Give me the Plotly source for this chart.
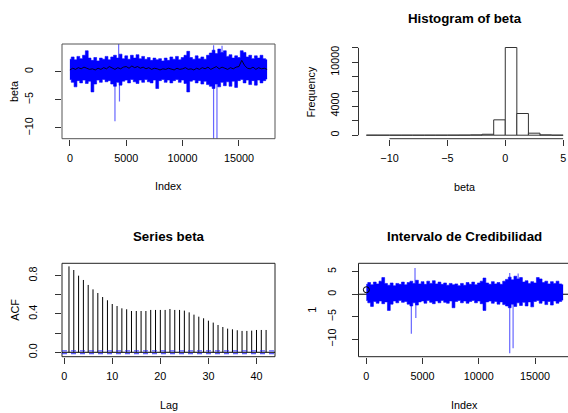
import plotly.graph_objects as go

W, H = 568, 413
FONT = "Liberation Sans, Arial, sans-serif"

# ---------------- beta: summary of the 17500 draws on a 250-step grid ----------------
idx_grid = list(range(0, 17501, 250))
upper_env = [2.2, 2.6, 2.1, 2.7, 2.3, 2.9, 3.7, 2.4, 2.0, 2.5, 1.9, 2.4, 2.2, 2.7, 2.1,
             2.6, 2.9, 2.4, 3.1, 2.3, 2.8, 2.2, 2.9, 2.4, 3.0, 2.3, 2.7, 2.2, 2.5, 2.0,
             2.4, 2.1, 2.3, 1.9, 2.4, 2.0, 2.6, 2.2, 2.7, 2.1, 2.5, 2.9, 3.6, 2.5, 2.2,
             2.8, 2.3, 2.6, 2.2, 2.9, 3.3, 3.8, 3.2, 4.0, 3.4, 3.7, 2.7, 3.0, 2.4, 2.8,
             2.5, 3.7, 3.4, 2.6, 2.9, 2.3, 2.8, 2.4, 2.9, 2.3, 2.1]
lower_env = [-1.4, -1.9, -2.7, -1.6, -2.0, -1.5, -2.1, -1.7, -3.6, -2.2, -1.5, -1.9, -1.4,
             -1.8, -1.6, -2.2, -2.6, -1.9, -2.4, -1.7, -1.5, -2.0, -1.4, -1.8, -2.1, -1.5,
             -1.9, -1.4, -1.8, -2.0, -1.5, -3.0, -1.6, -1.4, -1.9, -1.5, -2.0, -1.6, -1.4,
             -1.9, -1.5, -2.1, -3.6, -1.7, -1.5, -2.0, -1.6, -2.2, -1.7, -2.3, -2.6, -3.0,
             -2.2, -2.7, -1.9, -2.5, -1.8, -2.6, -1.7, -2.8, -1.6, -1.4, -2.0, -1.5, -2.3,
             -1.6, -2.4, -1.5, -2.0, -1.6, -1.3]
mean_line = [0.3, 0.6, 0.4, 0.7, 0.5, 0.8, 0.6, 0.4, 0.5, 0.3, 0.6, 0.4, 0.7, 0.5, 0.9,
             0.6, 0.4, 0.7, 0.5, 0.8, 0.9, 0.6, 1.0, 0.7, 0.9, 0.6, 0.8, 0.5, 0.7, 0.4,
             0.6, 0.5, 0.3, 0.5, 0.4, 0.6, 0.5, 0.3, 0.6, 0.4, 0.5, 0.7, 0.4, 0.5, 0.3,
             0.6, 0.4, 0.7, 0.5, 0.8, 0.4, 0.6, 0.9, 0.5, 0.8, 0.6, 0.4, 0.7, 0.5, 0.8,
             0.9, 2.0, 1.1, 0.6, 0.5, 0.8, 0.4, 0.7, 0.5, 0.6, 0.4]

# isolated extreme draws of the credible bounds
spike_up_idx = [4327, 12750, 13500]
spike_up_val = [5.8, 4.7, 4.6]
spike_dn_idx = [4000, 4400, 12750, 13050]
spike_dn_val = [-8.8, -5.3, -13.1, -12.0]

# ---------------- histogram of beta (unit bins) ----------------
hist_left = list(range(-12, 5))
hist_counts = [3, 2, 2, 3, 2, 3, 5, 8, 15, 40, 130, 2110, 12050, 2980, 276, 40, 4]

# ---------------- autocorrelation ----------------
acf_lags = list(range(1, 43))
acf_vals = [0.897, 0.859, 0.800, 0.755, 0.703, 0.657, 0.619, 0.577, 0.543, 0.504,
            0.483, 0.459, 0.449, 0.431, 0.431, 0.431, 0.431, 0.442, 0.442, 0.442,
            0.442, 0.452, 0.442, 0.442, 0.435, 0.417, 0.393, 0.372, 0.355, 0.330,
            0.310, 0.285, 0.264, 0.247, 0.240, 0.230, 0.223, 0.223, 0.226, 0.233,
            0.233, 0.233]
acf_ci = 0.0148

# ---------------- layout geometry (pixels) ----------------
LX0, LX1 = 62, 275
RX0, RX1 = 358.5, 571
TY0, TY1 = 44, 138.7
BY0, BY1 = 263.3, 356.7


def px(x):
    return x / W


def py(y):
    return (H - y) / H


dom_left = [px(LX0), px(LX1)]
dom_right = [px(RX0), 1.0]
right_over = (RX1 - RX0) / (W - RX0)   # box edge lies just past the page
dom_top = [py(TY1), py(TY0)]
dom_bot = [py(BY1), py(BY0)]

fig = go.Figure()

BLUE = "#0000ff"
SPIKE = "rgba(0,0,255,0.6)"


def add_band(xa, ya):
    fig.add_trace(go.Scatter(x=idx_grid, y=upper_env, mode="lines", line_shape="hvh",
                             line=dict(color=BLUE, width=0.6), xaxis=xa, yaxis=ya))
    fig.add_trace(go.Scatter(x=idx_grid, y=lower_env, mode="lines", line_shape="hvh",
                             fill="tonexty", fillcolor=BLUE,
                             line=dict(color=BLUE, width=0.6), xaxis=xa, yaxis=ya))
    sx, sy = [], []
    for i, v in zip(spike_up_idx + spike_dn_idx, spike_up_val + spike_dn_val):
        sx += [i, i, None]
        sy += [0, v, None]
    fig.add_trace(go.Scatter(x=sx, y=sy, mode="lines", line=dict(color=SPIKE, width=1.2),
                             xaxis=xa, yaxis=ya))


# panel 1: trace of beta with its bounds
add_band("x", "y")
fig.add_trace(go.Scatter(x=idx_grid, y=mean_line, mode="lines",
                         line=dict(color="rgba(0,0,0,0.85)", width=1),
                         xaxis="x", yaxis="y"))

# panel 2: histogram
fig.add_trace(go.Bar(x=[b + 0.5 for b in hist_left], y=hist_counts, width=1,
                     marker=dict(color="white", line=dict(color="#333", width=1)),
                     xaxis="x2", yaxis="y2"))

# panel 3: ACF
ax, ay = [], []
for l, v in zip(acf_lags, acf_vals):
    ax += [l, l, None]
    ay += [0, v, None]
fig.add_trace(go.Scatter(x=ax, y=ay, mode="lines", line=dict(color="black", width=1),
                         xaxis="x3", yaxis="y3"))

# panel 4: credible interval
add_band("x4", "y4")
fig.add_trace(go.Scatter(x=[1], y=[1], mode="markers",
                         marker=dict(symbol="circle-open", size=6, color="black",
                                     line=dict(width=1)),
                         xaxis="x4", yaxis="y4"))

tick_common = dict(ticks="outside", ticklen=6, tickwidth=1, tickcolor="#333",
                   showgrid=False, zeroline=False, showline=False,
                   tickfont=dict(family=FONT, size=10.8, color="black"))
idx_ticks = [0, 5000, 10000, 15000]
idx_text = [str(v) for v in idx_ticks]

fig.update_layout(
    width=W, height=H, margin=dict(l=0, r=0, t=0, b=0),
    paper_bgcolor="white", plot_bgcolor="white", showlegend=False,
    xaxis=dict(domain=dom_left, anchor="y", range=[-699, 18200],
               tickvals=idx_ticks, ticktext=idx_text, ticklabelstandoff=3, **tick_common),
    yaxis=dict(domain=dom_top, anchor="x", range=[-11.9, 4.9], tickangle=-90,
               tickvals=[-10, -5, 0], ticklabelstandoff=18, **tick_common),
    xaxis2=dict(domain=dom_right, anchor="y2", range=[-12.68, 5.42],
                tickvals=[-10, -5, 0, 5], ticklabelstandoff=3, **tick_common),
    yaxis2=dict(domain=dom_top, anchor="x2", range=[-482, 12532], tickangle=-90,
                tickvals=[0, 2000, 4000, 6000, 8000, 10000, 12000],
                ticktext=["0", "", "4000", "", "", "10000", ""], ticklabelstandoff=8,
                **tick_common),
    xaxis3=dict(domain=dom_left, anchor="y3", range=[-0.45, 43.85],
                tickvals=[0, 10, 20, 30, 40], ticklabelstandoff=3, **tick_common),
    yaxis3=dict(domain=dom_bot, anchor="x3", range=[-0.046, 0.929], tickangle=-90,
                tickvals=[0, 0.2, 0.4, 0.6, 0.8],
                ticktext=["0.0", "", "0.4", "", "0.8"], ticklabelstandoff=14,
                **tick_common),
    xaxis4=dict(domain=dom_right, anchor="y4", range=[-699, 17933],
                tickvals=idx_ticks, ticktext=idx_text, ticklabelstandoff=3, **tick_common),
    yaxis4=dict(domain=dom_bot, anchor="x4", range=[-13.87, 6.87], tickangle=-90,
                tickvals=[-10, -5, 0, 5], ticklabelstandoff=11, **tick_common),
)

shapes = []
# frames
shapes.append(dict(type="rect", xref="x domain", yref="y domain", x0=0, x1=1, y0=0, y1=1,
                   line=dict(color="#555", width=1)))
shapes.append(dict(type="rect", xref="x3 domain", yref="y3 domain", x0=0, x1=1, y0=0, y1=1,
                   line=dict(color="#222", width=1)))
shapes.append(dict(type="rect", xref="x4 domain", yref="y4 domain", x0=0, x1=right_over,
                   y0=0, y1=1, line=dict(color="#222", width=1)))
# histogram axis lines span first to last tick
shapes.append(dict(type="line", xref="x2", yref="y2 domain", x0=-10, x1=5, y0=0, y1=0,
                   line=dict(color="#333", width=1)))
shapes.append(dict(type="line", xref="x2 domain", yref="y2", x0=0, x1=0, y0=0, y1=12000,
                   line=dict(color="#333", width=1)))
# ACF reference lines
shapes.append(dict(type="line", xref="x3 domain", yref="y3", x0=0, x1=1, y0=0, y1=0,
                   line=dict(color="black", width=1)))
for c in (acf_ci, -acf_ci):
    shapes.append(dict(type="line", xref="x3 domain", yref="y3", x0=0, x1=1, y0=c, y1=c,
                       line=dict(color="rgba(40,40,255,0.75)", width=1.3,
                                 dash="5px,4px")))
# zero line under the interval band
shapes.append(dict(type="line", xref="x4 domain", yref="y4", x0=0, x1=right_over, y0=0,
                   y1=0, layer="below", line=dict(color="black", width=1)))
fig.update_layout(shapes=shapes)


def label(text, x, y, size=10.8, bold=False, angle=0):
    fig.add_annotation(text=f"<b>{text}</b>" if bold else text, xref="paper", yref="paper",
                       x=px(x), y=py(y), xanchor="center", yanchor="middle",
                       showarrow=False, textangle=angle,
                       font=dict(family=FONT, size=size, color="black"))


# axis titles
label("Index", 168.5, 186)
label("beta", 14.7, 91.3, angle=-90)
label("beta", 464.75, 186.7)
label("Frequency", 311.3, 91.3, angle=-90)
label("Lag", 168.5, 405)
label("ACF", 14.7, 310, angle=-90)
label("Index", 464.75, 405)
label("1", 311.7, 310, angle=-90)
# main titles
label("Histogram of beta", 464.75, 18.3, size=13.3, bold=True)
label("Series beta", 168.5, 236.7, size=13.3, bold=True)
label("Intervalo de Credibilidad", 464.75, 236.7, size=13.3, bold=True)

fig.write_html("out.html")
